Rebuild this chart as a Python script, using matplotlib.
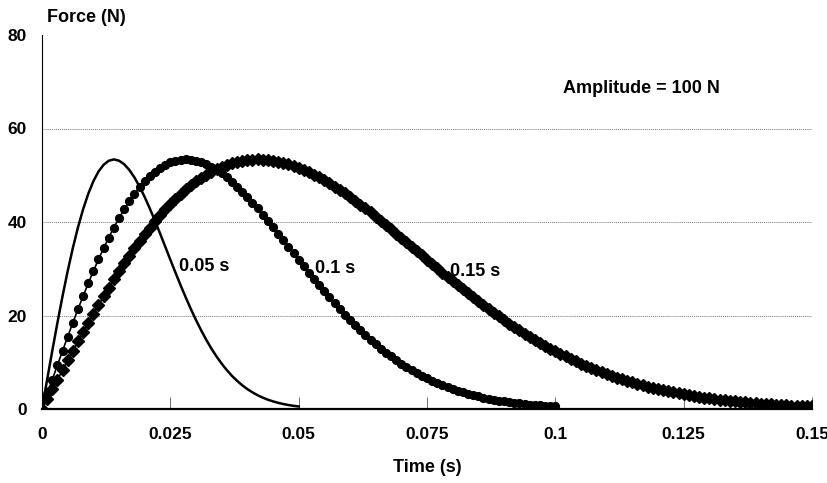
import matplotlib.pyplot as plt
import numpy as np

plt.rcParams['font.family'] = ['Liberation Sans', 'DejaVu Sans']
plt.rcParams['font.weight'] = 'bold'

# time step of the sampled pulses (s)
dt = 0.001

# pulse duration 0.05 s (solid line)
force_005 = [0, 6.27, 12.44, 18.42, 24.13, 29.48, 34.40, 38.82, 42.70, 46.00,
             48.70, 50.78, 52.24, 53.10, 53.39, 53.12, 52.36, 51.15, 49.54, 47.58,
             45.35, 42.89, 40.27, 37.54, 34.75, 31.95, 29.18, 26.47, 23.87, 21.38,
             19.03, 16.84, 14.79, 12.93, 11.23, 9.70, 8.32, 7.10, 6.03, 5.08,
             4.26, 3.56, 2.95, 2.43, 1.99, 1.63, 1.32, 1.06, 0.85, 0.68, 0.54]

# pulse duration 0.1 s (circles)
force_010 = [0, 3.14, 6.27, 9.37, 12.44, 15.46, 18.42, 21.32, 24.13, 26.85,
             29.48, 31.99, 34.40, 36.67, 38.82, 40.83, 42.70, 44.43, 46.00, 47.43,
             48.70, 49.82, 50.78, 51.59, 52.24, 52.74, 53.10, 53.31, 53.39, 53.32,
             53.12, 52.80, 52.36, 51.81, 51.15, 50.39, 49.54, 48.60, 47.58, 46.50,
             45.35, 44.15, 42.89, 41.60, 40.27, 38.92, 37.54, 36.15, 34.75, 33.35,
             31.95, 30.56, 29.18, 27.82, 26.47, 25.16, 23.87, 22.60, 21.38, 20.18,
             19.03, 17.91, 16.84, 15.80, 14.79, 13.84, 12.93, 12.06, 11.23, 10.44,
             9.70, 8.99, 8.32, 7.70, 7.10, 6.55, 6.03, 5.54, 5.08, 4.66,
             4.26, 3.90, 3.56, 3.24, 2.95, 2.68, 2.43, 2.20, 1.99, 1.80,
             1.63, 1.46, 1.32, 1.18, 1.06, 0.95, 0.85, 0.76, 0.68, 0.60, 0.54]

# pulse duration 0.15 s (diamonds)
force_015 = [0, 2.09, 4.18, 6.27, 8.34, 10.40, 12.44, 14.46, 16.45, 18.42,
             20.36, 22.26, 24.13, 25.96, 27.74, 29.48, 31.17, 32.81, 34.40, 35.93,
             37.40, 38.82, 40.18, 41.47, 42.70, 43.87, 44.97, 46.00, 46.97, 47.87,
             48.70, 49.46, 50.15, 50.78, 51.33, 51.82, 52.24, 52.59, 52.88, 53.10,
             53.26, 53.35, 53.39, 53.36, 53.27, 53.12, 52.92, 52.67, 52.36, 52.01,
             51.60, 51.15, 50.65, 50.11, 49.54, 48.92, 48.27, 47.58, 46.87, 46.12,
             45.35, 44.56, 43.74, 42.89, 42.04, 41.17, 40.27, 39.37, 38.47, 37.54,
             36.62, 35.69, 34.75, 33.82, 32.89, 31.95, 31.02, 30.10, 29.18, 28.27,
             27.37, 26.47, 25.59, 24.72, 23.87, 23.02, 22.19, 21.38, 20.58, 19.79,
             19.03, 18.28, 17.55, 16.84, 16.14, 15.46, 14.79, 14.16, 13.53, 12.93,
             12.35, 11.78, 11.23, 10.70, 10.19, 9.70, 9.22, 8.76, 8.32, 7.90,
             7.49, 7.10, 6.73, 6.37, 6.03, 5.70, 5.38, 5.08, 4.79, 4.52,
             4.26, 4.01, 3.78, 3.56, 3.34, 3.14, 2.95, 2.77, 2.60, 2.43,
             2.28, 2.13, 1.99, 1.86, 1.74, 1.63, 1.52, 1.41, 1.32, 1.23,
             1.14, 1.06, 0.99, 0.92, 0.85, 0.79, 0.73, 0.68, 0.63, 0.58, 0.54]

xticks = [0, 0.025, 0.05, 0.075, 0.1, 0.125, 0.15]
xtick_labels = ['0', '0.025', '0.05', '0.075', '0.1', '0.125', '0.15']
yticks = [0, 20, 40, 60, 80]

t005 = np.arange(len(force_005)) * dt
t010 = np.arange(len(force_010)) * dt
t015 = np.arange(len(force_015)) * dt

fig = plt.figure(figsize=(8.28, 4.83), dpi=100)
ax = fig.add_axes([42/828, 1-409/483, 770/828, 374/483])

ax.plot(t015, force_015, color='k', lw=1.2, marker='D', ms=6.0, mec='k', mfc='k', zorder=3)
ax.plot(t010, force_010, color='k', lw=1.2, marker='o', ms=5.6, mec='k', mfc='k', zorder=4)
ax.plot(t005, force_005, color='k', lw=1.8, zorder=5)

ax.set_xlim(0, 0.15)
ax.set_ylim(0, 80)
ax.set_xticks(xticks)
ax.set_xticklabels(xtick_labels)
ax.set_yticks(yticks)
ax.tick_params(axis='x', direction='in', length=9, width=0.6, color='#555555',
               labelsize=12.5, pad=13)
ax.tick_params(axis='y', length=0, labelsize=12.5, pad=11)

ax.grid(axis='y', color='#777777', linestyle=(0, (1, 1)), lw=0.7)
ax.get_ygridlines()[-1].set_visible(False)
ax.set_axisbelow(True)

for s in ['top', 'right']:
    ax.spines[s].set_visible(False)
ax.spines['left'].set_linewidth(0.8)
ax.spines['bottom'].set_linewidth(1.6)

ax.set_xlabel('Time (s)', fontsize=13, fontweight='bold', labelpad=12)
fig.text(47/828, 1-17/483, 'Force (N)', fontsize=13, fontweight='bold',
         ha='left', va='center')

ax.text(0.0316, 30.4, '0.05 s', fontsize=13, fontweight='bold', ha='center', va='center')
ax.text(0.0571, 30, '0.1 s', fontsize=13, fontweight='bold', ha='center', va='center')
ax.text(0.0844, 29.5, '0.15 s', fontsize=13, fontweight='bold', ha='center', va='center')
ax.text(0.1168, 68.5, 'Amplitude = 100 N', fontsize=13, fontweight='bold',
        ha='center', va='center')

fig.savefig('out.png', dpi=100)
